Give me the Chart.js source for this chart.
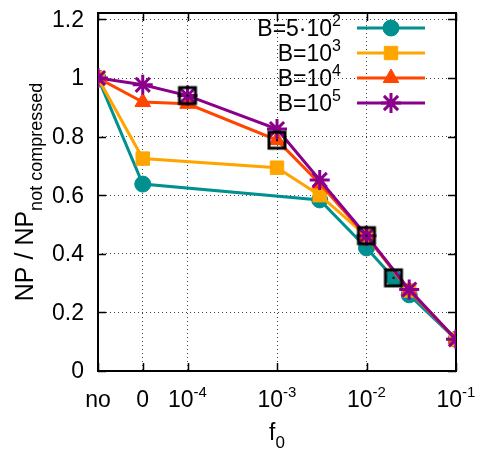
<!DOCTYPE html>
<html>
<head>
<meta charset="utf-8">
<script src="https://cdn.jsdelivr.net/npm/chart.js@4.4.1/dist/chart.umd.min.js"></script>
<style>
  html, body { margin: 0; padding: 0; background: #fff; }
  canvas { display: block; }
</style>
</head>
<body>
<canvas id="myChart" width="477" height="450"></canvas>
<script>
// f0 values: "no" = no compression, 0 = compression with f0 = 0
const fCats = ["no", 0, 1e-4, 1e-3, 1e-2, 1e-1];
const fTickLabels = [["no", ""], ["0", ""], ["10", "-4"], ["10", "-3"], ["10", "-2"], ["10", "-1"]];
const yTickVals = [0, 0.2, 0.4, 0.6, 0.8, 1, 1.2];
const yTickLabels = ["0", "0.2", "0.4", "0.6", "0.8", "1", "1.2"];

const seriesNames = [["B=5\u00b710", "2"], ["B=10", "3"], ["B=10", "4"], ["B=10", "5"]];

const fB500 = ["no", 0, 3e-3, 1e-2, 2e-2, 3e-2, 1e-1];
const npB500 = [1.0, 0.638, 0.584, 0.42, 0.318, 0.26, 0.108];

const fB1e3 = ["no", 0, 1e-3, 3e-3, 1e-2, 3e-2, 1e-1];
const npB1e3 = [1.0, 0.725, 0.694, 0.6, 0.46, 0.275, 0.108];

const fB1e4 = ["no", 0, 1e-4, 1e-3, 3e-3, 1e-2, 3e-2, 1e-1];
const npB1e4 = [1.0, 0.918, 0.912, 0.788, 0.64, 0.46, 0.275, 0.108];

const fB1e5 = ["no", 0, 1e-4, 1e-3, 3e-3, 1e-2, 3e-2, 1e-1];
const npB1e5 = [1.0, 0.977, 0.94, 0.826, 0.652, 0.462, 0.278, 0.108];

// highlighted (boxed) points
const fBest = [1e-4, 1e-3, 1e-2, 2e-2];
const npBest = [0.94, 0.788, 0.462, 0.318];

const FONT = "'Liberation Sans', Arial, sans-serif";

// position on the x axis: log10(f0), with "no" and 0 placed left of 10^-4
const toPos = (f) => (f === "no" ? -5 : f === 0 ? -4.5 : Math.log10(f));
const pts = (fs, vs) => fs.map((f, i) => ({ x: toPos(f), y: vs[i] }));

const styles = [
  { color: "#009090", pointStyle: "circle", radius: 8 },
  { color: "#ffa500", pointStyle: "rect", radius: 9.5 },
  { color: "#ff4500", pointStyle: "triangle", radius: 9 },
  { color: "#8b008b", pointStyle: "star", radius: 10 },
];

const boxMark = (() => {
  const c = document.createElement("canvas");
  c.width = 22;
  c.height = 22;
  const g = c.getContext("2d");
  g.strokeStyle = "#000";
  g.lineWidth = 3;
  g.strokeRect(3, 3, 16, 16);
  g.fillStyle = "#000";
  g.fillRect(10, 10, 2, 2);
  return c;
})();

const makeSet = (fs, vs, i) => ({
  data: pts(fs, vs),
  borderColor: styles[i].color,
  backgroundColor: styles[i].color,
  borderWidth: 3,
  pointStyle: styles[i].pointStyle,
  pointRadius: styles[i].radius,
  pointBorderWidth: styles[i].pointStyle === "star" ? 3 : 1,
  tension: 0,
  order: 4 - i,
});

// text with a raised (sup) or lowered (sub) second part
const richText = (ctx, main, extra, x, y, size, smallSize, shift, align) => {
  ctx.font = size + "px " + FONT;
  const w1 = ctx.measureText(main).width;
  ctx.font = smallSize + "px " + FONT;
  const w2 = extra ? ctx.measureText(extra).width : 0;
  const total = w1 + w2;
  let x0 = x;
  if (align === "center") x0 = x - total / 2;
  if (align === "right") x0 = x - total;
  ctx.textAlign = "left";
  ctx.textBaseline = "alphabetic";
  ctx.font = size + "px " + FONT;
  ctx.fillText(main, x0, y);
  if (extra) {
    ctx.font = smallSize + "px " + FONT;
    ctx.fillText(extra, x0 + w1, y + shift);
  }
};

const gnuFrame = {
  id: "gnuFrame",
  beforeDatasetsDraw(chart) {
    const { ctx, chartArea: a, scales: { x, y } } = chart;
    ctx.save();
    ctx.strokeStyle = "#000";
    ctx.lineWidth = 2;
    ctx.strokeRect(a.left, a.top, a.right - a.left, a.bottom - a.top);
    ctx.lineWidth = 1.5;
    ctx.beginPath();
    fCats.forEach((f) => {
      const px = Math.round(x.getPixelForValue(toPos(f))) + 0.5;
      ctx.moveTo(px, a.bottom);
      ctx.lineTo(px, a.bottom - 8);
      ctx.moveTo(px, a.top);
      ctx.lineTo(px, a.top + 8);
    });
    yTickVals.forEach((v) => {
      const py = Math.round(y.getPixelForValue(v)) + 0.5;
      ctx.moveTo(a.left, py);
      ctx.lineTo(a.left + 8, py);
      ctx.moveTo(a.right, py);
      ctx.lineTo(a.right - 8, py);
    });
    ctx.stroke();
    ctx.restore();
  },
  afterDraw(chart) {
    const { ctx, chartArea: a, scales: { x, y } } = chart;
    ctx.save();
    ctx.fillStyle = "#000";

    // y tick labels
    ctx.font = "23px " + FONT;
    ctx.textAlign = "right";
    ctx.textBaseline = "middle";
    yTickVals.forEach((v, i) => {
      ctx.fillText(yTickLabels[i], a.left - 14, y.getPixelForValue(v) + 1);
    });

    // x tick labels
    fCats.forEach((f, i) => {
      const [m, s] = fTickLabels[i];
      richText(ctx, m, s, x.getPixelForValue(toPos(f)), a.bottom + 36, 23, 15, -10, "center");
    });

    // axis titles
    richText(ctx, "f", "0", (a.left + a.right) / 2, a.bottom + 69, 23, 17, 8, "center");
    ctx.save();
    ctx.translate(33, (a.top + a.bottom) / 2);
    ctx.rotate(-Math.PI / 2);
    richText(ctx, "NP / NP", "not compressed", 0, 0, 25, 18, 9, "center");
    ctx.restore();

    // key
    styles.forEach((st, i) => {
      const ry = 28 + i * 25;
      ctx.fillStyle = "#000";
      richText(ctx, seriesNames[i][0], seriesNames[i][1], 341, ry + 8, 23, 16, -10, "right");
      ctx.strokeStyle = st.color;
      ctx.fillStyle = st.color;
      ctx.lineWidth = 3;
      ctx.beginPath();
      ctx.moveTo(357, ry);
      ctx.lineTo(425, ry);
      ctx.stroke();
      ctx.lineWidth = st.pointStyle === "star" ? 3 : 1;
      Chart.helpers.drawPoint(ctx, {
        pointStyle: st.pointStyle,
        radius: st.radius,
        rotation: 0,
        borderWidth: ctx.lineWidth,
      }, 391, ry);
    });
    ctx.restore();
  },
};

const ctx = document.getElementById("myChart").getContext("2d");
new Chart(ctx, {
  type: "scatter",
  data: {
    datasets: [
      makeSet(fB500, npB500, 0),
      makeSet(fB1e3, npB1e3, 1),
      makeSet(fB1e4, npB1e4, 2),
      makeSet(fB1e5, npB1e5, 3),
      {
        data: pts(fBest, npBest),
        pointStyle: boxMark,
        pointRadius: 11,
        showLine: false,
        order: 0,
      },
    ],
  },
  options: {
    responsive: false,
    animation: false,
    devicePixelRatio: 1,
    showLine: true,
    layout: { padding: { left: 98, top: 6, right: 21, bottom: 79 } },
    plugins: { legend: { display: false }, tooltip: { enabled: false } },
    scales: {
      x: {
        type: "linear",
        min: -5,
        max: -1,
        afterBuildTicks: (s) => { s.ticks = fCats.map((f) => ({ value: toPos(f) })); },
        afterFit: (s) => { s.height = 0; },
        ticks: { display: false },
        grid: { color: "rgba(0,0,0,0.75)", lineWidth: 1, drawTicks: false },
        border: { display: false, dash: [1, 3] },
      },
      y: {
        min: 0,
        max: 1.222,
        afterBuildTicks: (s) => { s.ticks = yTickVals.map((v) => ({ value: v })); },
        afterFit: (s) => { s.width = 0; },
        ticks: { display: false },
        grid: { color: "rgba(0,0,0,0.75)", lineWidth: 1, drawTicks: false },
        border: { display: false, dash: [1, 3] },
      },
    },
  },
  plugins: [gnuFrame],
});
</script>
</body>
</html>
